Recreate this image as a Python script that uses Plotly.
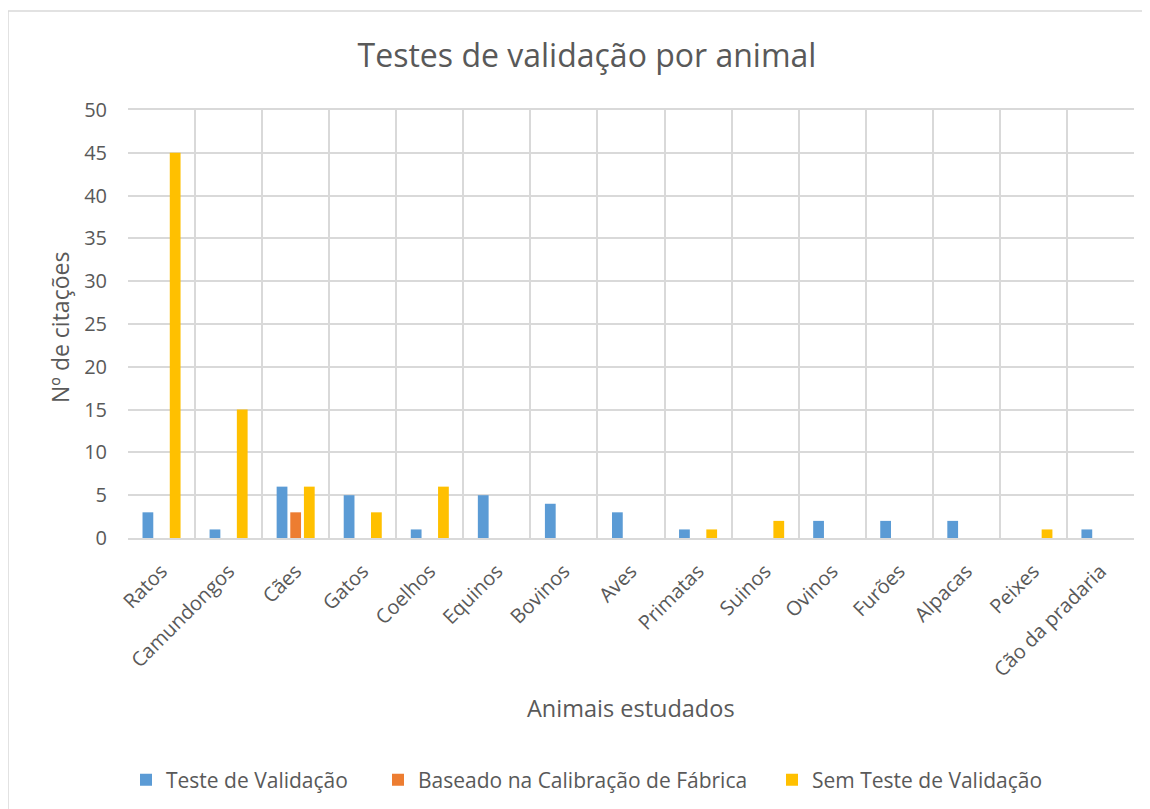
import plotly.graph_objects as go

categories = ["Ratos", "Camundongos", "Cães", "Gatos", "Coelhos", "Equinos", "Bovinos",
              "Aves", "Primatas", "Suinos", "Ovinos", "Furões", "Alpacas", "Peixes",
              "Cão da pradaria"]
teste_validacao = [3, 1, 6, 5, 1, 5, 4, 3, 1, 0, 2, 2, 2, 0, 1]
calibracao_fabrica = [0, 0, 3, 0, 0, 0, 0, 0, 0, 0, 0, 0, 0, 0, 0]
sem_teste = [45, 15, 6, 3, 6, 0, 0, 0, 1, 2, 0, 0, 0, 1, 0]

series_names = ["Teste de Validação", "Baseado na Calibração de Fábrica", "Sem Teste de Validação"]
series_colors = ["#5B9BD5", "#ED7D31", "#FFC000"]
y_ticks = [0, 5, 10, 15, 20, 25, 30, 35, 40, 45, 50]

FONT = "Open Sans"
GREY = "#595959"
GRID = "#D9D9D9"

# page body has an 8px margin; work in reference-image pixels and shift
OFF = 8
W, H = 1150 - OFF, 809 - OFF
L, R, T, B = 128 - OFF, 16, 110 - OFF, 271
pw = W - L - R
ph = H - T - B

def px_x(x):
    return (x - OFF - L) / pw

def px_y(y):
    return (H - B - (y - OFF)) / ph

def cx(x):
    return (x - OFF) / W

def cy(y):
    return 1 - (y - OFF) / H

legend_ids = ["legend", "legend2", "legend3"]
legend_left = [126, 378, 772]

fig = go.Figure()
for name, vals, col, lid in zip(series_names, [teste_validacao, calibracao_fabrica, sem_teste],
                                series_colors, legend_ids):
    fig.add_trace(go.Bar(x=categories, y=vals, name=name, legend=lid,
                         marker=dict(color=col, line=dict(width=0))))

legend_style = dict(orientation="h", xref="container", yref="container",
                    xanchor="left", yanchor="middle", y=cy(780),
                    font=dict(size=21, color=GREY, family=FONT), itemwidth=30,
                    bgcolor="rgba(0,0,0,0)")

fig.update_layout(
    width=W, height=H,
    margin=dict(l=L, r=R, t=T, b=B, autoexpand=False),
    paper_bgcolor="white", plot_bgcolor="white",
    showlegend=True,
    barmode="group", bargap=0.39, bargroupgap=0.21,
    font=dict(family=FONT, color=GREY),
    title=dict(text="Testes de validação por animal", x=cx(587), xanchor="center",
               y=cy(56), yanchor="middle", font=dict(size=32, color=GREY, family=FONT)),
    legend=dict(legend_style, x=cx(legend_left[0])),
    legend2=dict(legend_style, x=cx(legend_left[1])),
    legend3=dict(legend_style, x=cx(legend_left[2])),
    xaxis=dict(type="category", tickson="boundaries", showgrid=True, gridcolor=GRID, gridwidth=1.5,
               showline=True, linecolor=GRID, linewidth=1.5, mirror=True, ticks="",
               tickangle=-45, ticklabelstandoff=12, tickfont=dict(size=20, color=GREY)),
    yaxis=dict(range=[0, 50], tickvals=y_ticks, showgrid=True, gridcolor=GRID, gridwidth=1.5,
               showline=False, zeroline=False, ticks="", ticklabelstandoff=20,
               tickfont=dict(size=20, color=GREY)),
    annotations=[
        dict(text="Animais estudados", xref="paper", yref="paper", x=px_x(631), y=px_y(708),
             xanchor="center", yanchor="middle", showarrow=False, font=dict(size=23.5, color=GREY)),
        dict(text="Nº de citações", xref="paper", yref="paper", x=px_x(60), y=px_y(328),
             xanchor="center", yanchor="middle", textangle=-90, showarrow=False,
             font=dict(size=23, color=GREY)),
    ],
    shapes=[
        dict(type="line", xref="paper", yref="paper", x0=px_x(8), x1=px_x(1170),
             y0=px_y(11), y1=px_y(11), line=dict(color=GRID, width=1.5), layer="below"),
        dict(type="line", xref="paper", yref="paper", x0=px_x(8), x1=px_x(8),
             y0=px_y(11), y1=px_y(830), line=dict(color=GRID, width=1.5), layer="below"),
    ],
)

fig.write_html("out.html")
